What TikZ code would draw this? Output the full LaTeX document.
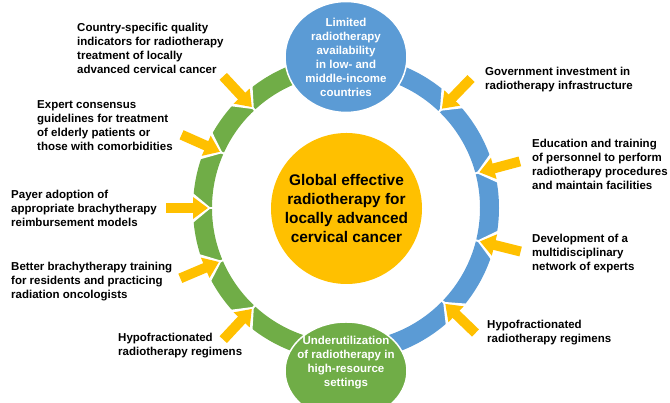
\documentclass[tikz,border=0pt]{standalone}
\usepackage{fontspec}
\setmainfont{Liberation Sans}
\usepackage{tikz}
\usetikzlibrary{arrows.meta, positioning, calc, shapes.geometric}
\definecolor{ringblue}{HTML}{5B9BD5}
\definecolor{ringgreen}{HTML}{70AD47}
\definecolor{gold}{HTML}{FFC000}

\begin{document}
\begin{tikzpicture}[x=1pt,y=1pt,
		text node/.style={font=\fontsize{11.5}{14}\selectfont\bfseries, align=left, anchor=base west, inner sep=0pt},
		state node/.style={ellipse, draw=white, line width=1.5pt, minimum width=122pt, minimum height=98pt, inner sep=0pt},
		state text/.style={font=\fontsize{11.5}{14}\selectfont\bfseries, text=white, align=center, inner sep=0pt},
		halo/.style={draw=white, line width=14pt, -{Triangle[length=19pt, width=30pt]}, shorten >=-3pt},
		push arrow/.style={preaction=halo, draw=gold, line width=10pt, -{Triangle[length=15pt, width=21pt]}},
		gap/.style={draw=white, line width=2pt}]
		
		\useasboundingbox (0,0) rectangle (670,403);
		\coordinate (hub) at (346,195);
		
		% ring
		\draw[ringblue, line width=19pt] (hub) ++(90:143.5) arc[start angle=90, end angle=-90, radius=143.5];
		\draw[ringgreen, line width=19pt] (hub) ++(90:143.5) arc[start angle=90, end angle=270, radius=143.5];
		\draw[gap] (hub) ++(46:131) -- ++(46:26);
		\draw[gap] (hub) ++(15:131) -- ++(15:26);
		\draw[gap] (hub) ++(-14:131) -- ++(-14:26);
		\draw[gap] (hub) ++(-44:131) -- ++(-44:26);
		\draw[gap] (hub) ++(133:131) -- ++(133:26);
		\draw[gap] (hub) ++(156:131) -- ++(156:26);
		\draw[gap] (hub) ++(180:131) -- ++(180:26);
		\draw[gap] (hub) ++(203:131) -- ++(203:26);
		\draw[gap] (hub) ++(227:131) -- ++(227:26);
		
		\node[circle, fill=gold, minimum size=151pt, inner sep=0pt, align=center,
		font=\fontsize{15.4}{18.7}\selectfont\bfseries] (goal) at (346.5,194.5)
		{Global effective\\radiotherapy for\\locally advanced\\cervical cancer};
		
		\node[state node, fill=ringblue, font=\fontsize{11.5}{14}\selectfont\bfseries, text=white, align=center] (limited) at (346,346)
		{Limited\\radiotherapy\\availability\\in low- and\\middle-income\\countries};
		\node[state node, fill=ringgreen] (underuse) at (346,32) {};
		\node[state text] (underuse text) at (346,40)
		{Underutilization\\of radiotherapy in\\high-resource\\settings};
		
		% labels (anchored at the last line)
		\node[text node] (quality) at (77,329) {Country-specific quality\\indicators for radiotherapy\\treatment of locally\\advanced cervical cancer};
		\node[text node] (elderly) at (37,252) {Expert consensus\\guidelines for treatment\\of elderly patients or\\those with comorbidities};
		\node[text node] (payer) at (11,176) {Payer adoption of\\appropriate brachytherapy\\reimbursement models};
		\node[text node] (training) at (11,104) {Better brachytherapy training\\for residents and practicing\\radiation oncologists};
		\node[text node] (hypo left) at (118,47) {Hypofractionated\\radiotherapy regimens};
		\node[text node] (invest) at (485,313) {Government investment in\\radiotherapy infrastructure};
		\node[text node] (staff) at (532,213) {Education and training\\of personnel to perform\\radiotherapy procedures\\and maintain facilities};
		\node[text node] (network) at (532,132) {Development of a\\multidisciplinary\\network of experts};
		\node[text node] (hypo right) at (487,60) {Hypofractionated\\radiotherapy regimens};
		
		% arrows
		\path (hub) ++(133:180) coordinate (quality from) (hub) ++(133:138) coordinate (quality to);
		\path (hub) ++(156:180) coordinate (elderly from) (hub) ++(156:138) coordinate (elderly to);
		\path (hub) ++(180:180) coordinate (payer from) (hub) ++(180:138) coordinate (payer to);
		\path (hub) ++(203:180) coordinate (training from) (hub) ++(203:138) coordinate (training to);
		\path (hub) ++(227:180) coordinate (hypo left from) (hub) ++(227:138) coordinate (hypo left to);
		\path (hub) ++(46:180) coordinate (invest from) (hub) ++(46:138) coordinate (invest to);
		\path (hub) ++(15:180) coordinate (staff from) (hub) ++(15:138) coordinate (staff to);
		\path (hub) ++(-14:180) coordinate (network from) (hub) ++(-14:138) coordinate (network to);
		\path (hub) ++(-44:180) coordinate (hypo right from) (hub) ++(-44:138) coordinate (hypo right to);
		
		\draw[push arrow] (quality from) -- (quality to);
		\draw[push arrow] (elderly from) -- (elderly to);
		\draw[push arrow] (payer from) -- (payer to);
		\draw[push arrow] (training from) -- (training to);
		\draw[push arrow] (hypo left from) -- (hypo left to);
		\draw[push arrow] (invest from) -- (invest to);
		\draw[push arrow] (staff from) -- (staff to);
		\draw[push arrow] (network from) -- (network to);
		\draw[push arrow] (hypo right from) -- (hypo right to);
		\end{tikzpicture}
\end{document}
